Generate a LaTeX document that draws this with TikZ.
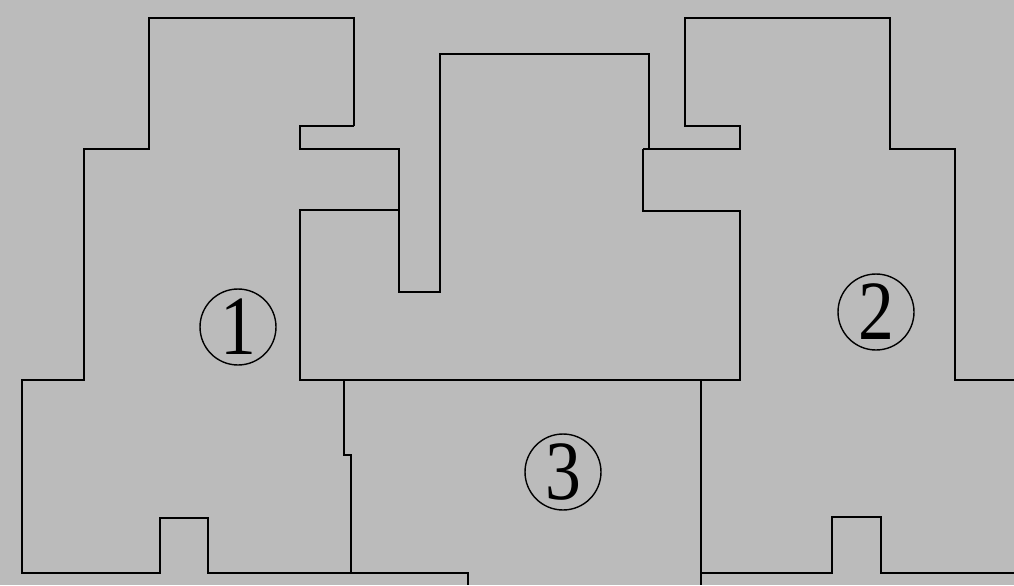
\documentclass[tikz,border=0pt]{standalone}
\usepackage{fontspec}
\setmainfont{Liberation Serif}
\usetikzlibrary{positioning}
\definecolor{plangray}{RGB}{187,187,187}

\begin{document}
\begin{tikzpicture}[x=0.02cm, y=-0.02cm, line width=1.1pt,
  wall/.style={draw=black, line join=miter},
  num/.style={draw, circle, line width=0.8pt, minimum size=1.52cm, inner sep=0pt, font=\fontsize{48}{48}\selectfont}]
  \fill[plangray] (0,0) rectangle (1014,585);
  \useasboundingbox (0,0) rectangle (1014,585);
  % left block
  \draw[wall] (354,126) -- (354,18) -- (149,18) -- (149,149) -- (84,149) -- (84,380) -- (22,380) -- (22,573)
    -- (160,573) -- (160,518) -- (208,518) -- (208,573) -- (468,573) -- (468,585);
  \draw[wall] (354,126) -- (300,126) -- (300,149) -- (399,149) -- (399,292) -- (440,292) -- (440,54) -- (649,54) -- (649,149);
  % right block
  \draw[wall] (643,149) -- (740,149) -- (740,126) -- (685,126) -- (685,18) -- (890,18) -- (890,149) -- (955,149)
    -- (955,380) -- (1014,380);
  % middle block
  \draw[wall] (643,149) -- (643,211) -- (740,211) -- (740,380) -- (300,380) -- (300,210) -- (399,210);
  % lower block
  \draw[wall] (344,380) -- (344,455) -- (351,455) -- (351,573);
  \draw[wall] (701,380) -- (701,585);
  \draw[wall] (701,573) -- (832,573) -- (832,517) -- (881,517) -- (881,573) -- (1014,573);
  % numbers
  \node[num] (one) at (238,327) {\scalebox{0.85}[1]{1}};
  \node[num] (two) at (876,312) {\scalebox{0.85}[1]{2}};
  \node[num] (three) at (563,472) {\scalebox{0.85}[1]{3}};
\end{tikzpicture}
\end{document}
